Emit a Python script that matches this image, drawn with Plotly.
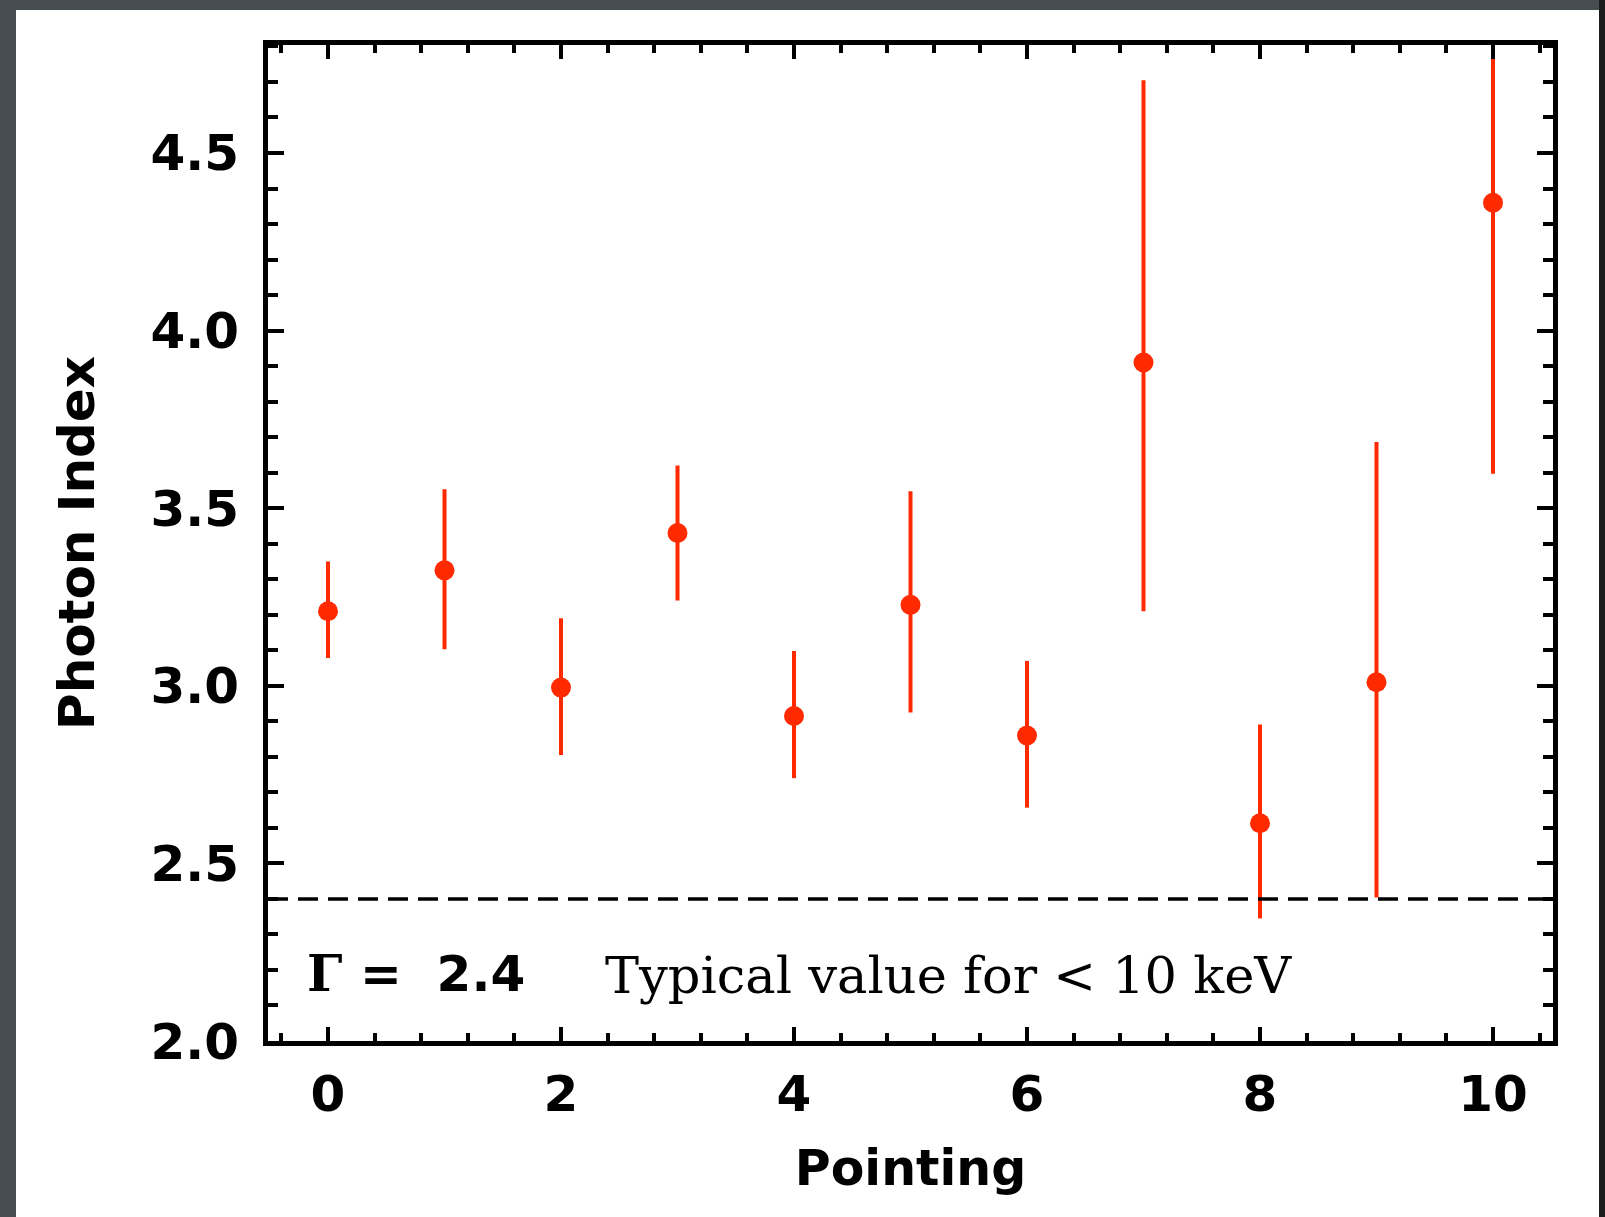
import plotly.graph_objects as go

pointing = [0, 1, 2, 3, 4, 5, 6, 7, 8, 9, 10]
photon_index = [3.21, 3.325, 2.995, 3.43, 2.915, 3.228, 2.86, 3.91, 2.613, 3.01, 4.36]
err_upper = [0.14, 0.228, 0.195, 0.19, 0.183, 0.32, 0.21, 0.795, 0.278, 0.676, 0.6]
err_lower = [0.132, 0.222, 0.19, 0.19, 0.175, 0.303, 0.203, 0.70, 0.268, 0.606, 0.763]
typical_gamma = 2.4

RED = "#ff2a00"
TICKFONT = dict(family="DejaVu Sans", size=50, color="black", weight="bold")

fig = go.Figure()
fig.add_trace(go.Scatter(
    x=pointing, y=photon_index, mode="markers",
    marker=dict(color=RED, size=20, line=dict(width=0)),
    error_y=dict(type="data", symmetric=False, array=err_upper, arrayminus=err_lower,
                 color=RED, thickness=4, width=0),
    showlegend=False, cliponaxis=True,
))

fig.add_shape(type="line", xref="paper", yref="y", x0=0, x1=1,
              y0=typical_gamma, y1=typical_gamma,
              line=dict(color="black", width=3.5, dash="20px,10px"))

# page background: dark frame with white sheet
W, H = 1605, 1217
L, R, T, B = 268, 52, 45, 176
pw, ph = W - L - R, H - T - B
def px(x): return (x - L) / pw
def py(y): return (H - B - y) / ph
fig.add_shape(type="rect", xref="paper", yref="paper", layer="below",
              x0=px(16), x1=px(1599), y0=py(10), y1=py(1230),
              fillcolor="white", line=dict(width=0))
fig.add_shape(type="rect", xref="paper", yref="paper", layer="below",
              x0=px(1599), x1=px(1620), y0=py(-10), y1=py(1230),
              fillcolor="#1c1c1c", line=dict(width=0))

fig.add_annotation(x=-0.2, y=2.19, xref="x", yref="y", xanchor="left", yanchor="middle",
                   text="<span style='font-family:DejaVu Serif'>Γ</span> =  2.4", showarrow=False,
                   font=dict(family="DejaVu Sans", size=50, color="black", weight="bold"))
fig.add_annotation(x=2.36, y=2.185, xref="x", yref="y", xanchor="left", yanchor="middle",
                   text="Typical value for < 10 keV", showarrow=False,
                   font=dict(family="DejaVu Serif", size=51, color="black"))

fig.update_xaxes(
    range=[-0.515, 10.515], dtick=2, tick0=0,
    showline=True, linewidth=5, linecolor="black", mirror="allticks",
    ticks="inside", ticklen=14, tickwidth=3.5, tickcolor="black",
    minor=dict(dtick=0.4, tick0=0, ticks="inside", ticklen=8, tickwidth=3.5, tickcolor="black"),
    showgrid=False, zeroline=False, tickfont=TICKFONT, ticklabelstandoff=5,
    title=dict(text="Pointing", font=dict(family="DejaVu Sans", size=49, color="black", weight="bold"), standoff=30),
)
fig.update_yaxes(
    range=[2.0, 4.804], dtick=0.5, tick0=2.0, tickformat=".1f",
    showline=True, linewidth=5, linecolor="black", mirror="allticks",
    ticks="inside", ticklen=16, tickwidth=3.5, tickcolor="black",
    minor=dict(dtick=0.1, tick0=2.0, ticks="inside", ticklen=10, tickwidth=3.5, tickcolor="black"),
    showgrid=False, zeroline=False, tickfont=TICKFONT, ticklabelstandoff=14,
    title=dict(text="Photon Index", font=dict(family="DejaVu Sans", size=50, color="black", weight="bold"), standoff=41),
)

fig.update_layout(
    width=W, height=H,
    margin=dict(l=L, r=R, t=T, b=B, autoexpand=False),
    paper_bgcolor="#454d51", plot_bgcolor="white",
)

fig.write_html("out.html", config={"displayModeBar": False},
               post_script="document.body.style.margin='0';document.body.style.overflow='hidden';")
